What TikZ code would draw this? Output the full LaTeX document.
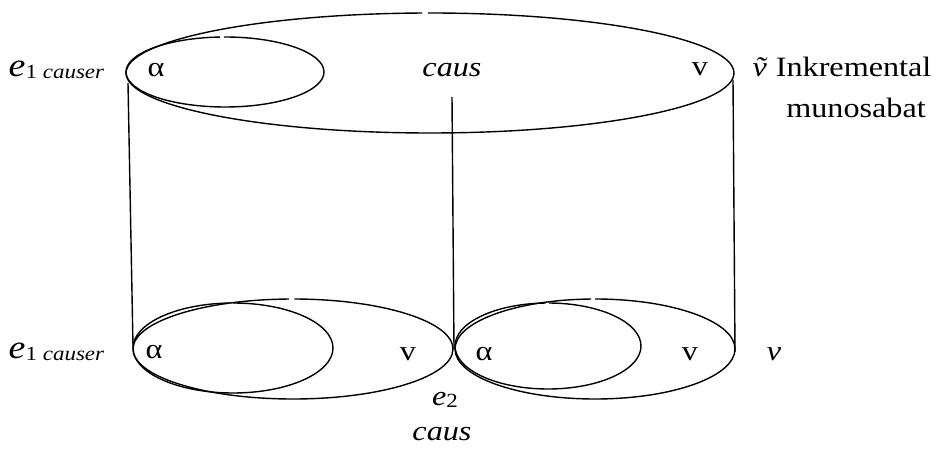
\documentclass[tikz,border=0pt]{standalone}
\usepackage{fontspec}
\setmainfont{Liberation Serif}[FakeStretch=1.15, ItalicFont={Liberation Serif Italic}, ItalicFeatures={FakeStretch=1.15}]
\newcommand{\lblsize}{\fontsize{14}{16}\selectfont}
\newcommand{\subsize}{\fontsize{10}{12}\selectfont}
\newcommand{\eone}{{\fontsize{16.5}{18}\selectfont\itshape e}\raisebox{-1pt}{\subsize 1 \textit{causer}}}
\begin{document}
\begin{tikzpicture}[x=0.5pt, y=-0.5pt, line width=0.7pt,
  lbl/.style={inner sep=0pt, anchor=base, font=\lblsize}]
  \useasboundingbox (0,0) rectangle (936,459);
  \draw (430,73) ++(269.6:304 and 60) arc[start angle=269.6, end angle=628.5, x radius=304, y radius=60];
  \draw (225,72) ++(269.4:99 and 35) arc[start angle=269.4, end angle=627.1, x radius=99, y radius=35];
  \draw (293,349) ++(270.5:160 and 50) arc[start angle=270.5, end angle=628.5, x radius=160, y radius=50];
  \draw (233,348) ++(270:100 and 45) arc[start angle=270, end angle=628, x radius=100, y radius=45];
  \draw (595,349) ++(270:140 and 50) arc[start angle=270, end angle=628.4, x radius=140, y radius=50];
  \draw (548,346) ++(270.5:93 and 43) arc[start angle=270.5, end angle=628.5, x radius=93, y radius=43];
  \coordinate (tl) at (128,83);
  \coordinate (bl) at (133,346);
  \coordinate (tm) at (452,97);
  \coordinate (bm) at (454,349);
  \coordinate (tr) at (733,80);
  \coordinate (br) at (735,352);
  \draw (tl) -- (bl);
  \draw (tm) -- (bm);
  \draw (tr) -- (br);
  \node[lbl, anchor=base west] (ecauserTop) at (8,77) {\eone};
  \node[lbl] (alphaTop) at (156,77) {α};
  \node[lbl] (causTop) at (452,77) {\textit{caus}};
  \node[lbl] (vTop) at (700,76) {v};
  \node[lbl, anchor=base west] (vtilde) at (752,77) {\textit{\~{v}} Inkremental};
  \node[lbl] (munosabat) at (856,118) {munosabat};
  \node[lbl, anchor=base west] (ecauserBot) at (8,358) {\eone};
  \node[lbl] (alphaL) at (154,358) {α};
  \node[lbl] (vL) at (408,360) {v};
  \node[lbl] (alphaR) at (484,360) {α};
  \node[lbl] (vR) at (690,360) {v};
  \node[lbl] (vIt) at (774,360) {\textit{v}};
  \node[lbl] (etwo) at (445,405) {\textit{e}\raisebox{-1.5pt}{\subsize 2}};
  \node[lbl] (causBot) at (442,440) {\textit{caus}};
\end{tikzpicture}
\end{document}
